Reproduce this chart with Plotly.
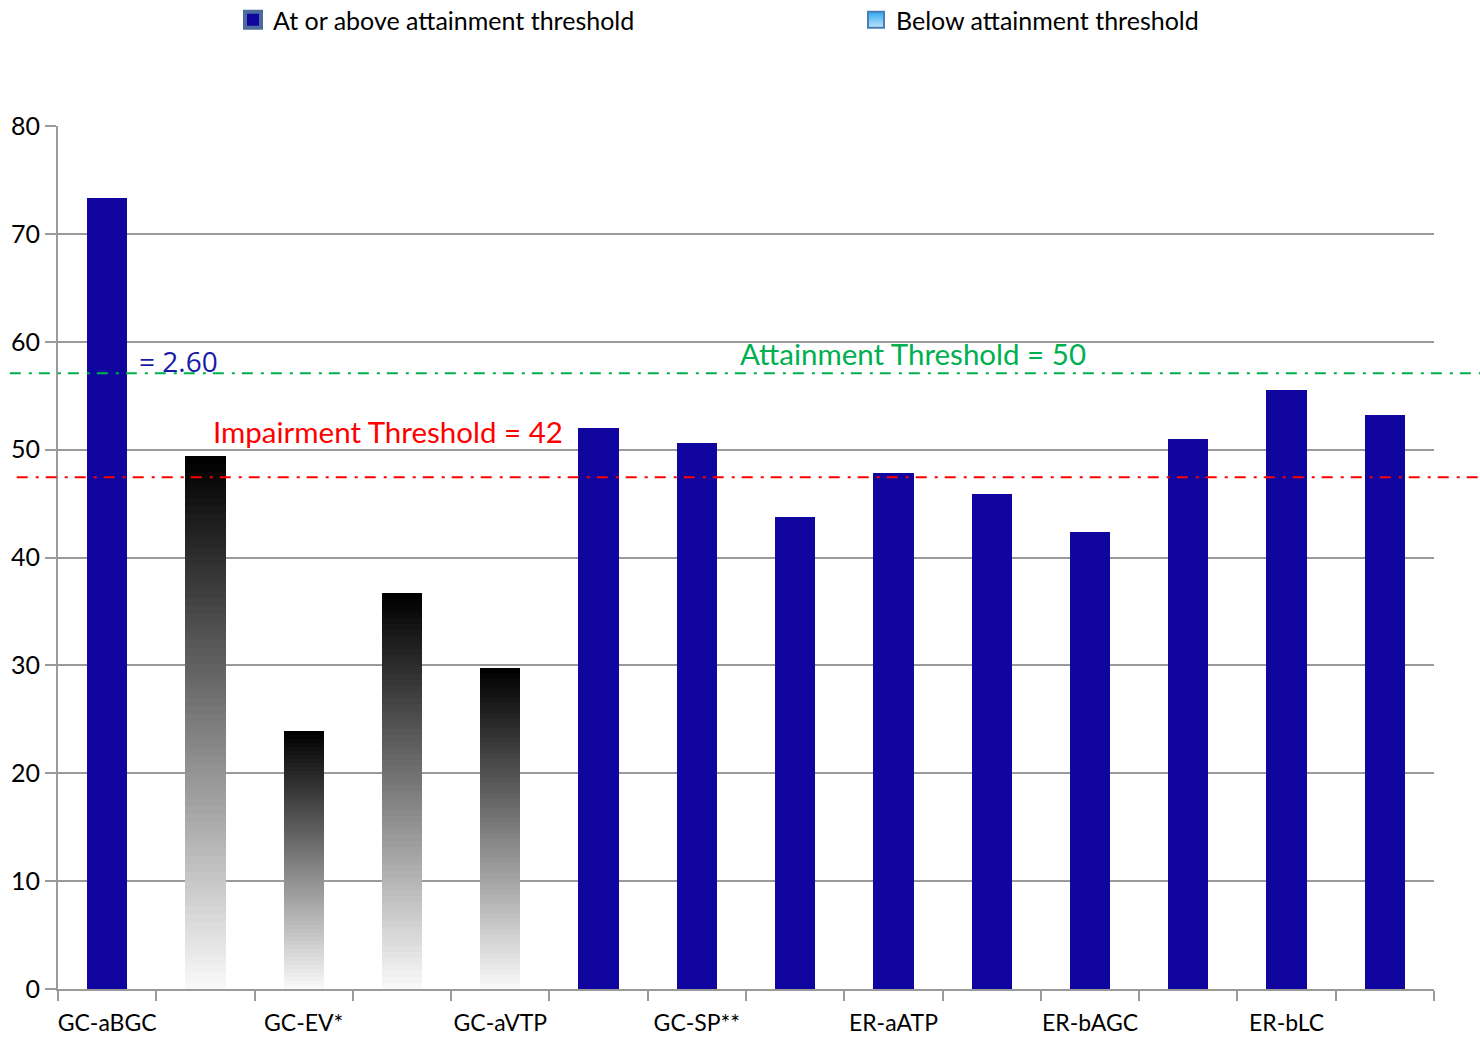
import plotly.graph_objects as go

# ---- data -------------------------------------------------------------
tick_labels = ["GC-aBGC", "", "GC-EV*", "", "GC-aVTP", "", "GC-SP**", "",
               "ER-aATP", "", "ER-bAGC", "", "ER-bLC", ""]
scores = [73.3, 49.4, 23.9, 36.7, 29.8, 52.0, 50.6, 43.8, 47.8, 45.9,
          42.4, 51.0, 55.5, 53.2]
status = ["above", "below", "below", "below", "below", "above", "above",
          "above", "above", "above", "above", "above", "above", "above"]
legend_labels = ["At or above attainment threshold", "Below attainment threshold"]

attainment_threshold = 50
impairment_threshold = 42
threshold_axis_range = [2.60, 69.04]
corner_note = "= 2.60"

# ---- styling ----------------------------------------------------------
BLUE = "#10069F"
GRID = "#9A9A9A"
GREEN = "#00B050"
RED = "#FF0000"
LABEL_FONT = "Lato"
BAR_WIDTH = 0.41
N_SHADES = 64

positions = list(range(len(scores)))

fig = go.Figure()

# solid bars
above_x = [p for p, s in zip(positions, status) if s == "above"]
above_y = [v for v, s in zip(scores, status) if s == "above"]
fig.add_trace(go.Bar(x=above_x, y=above_y, width=BAR_WIDTH,
                     marker=dict(color=BLUE, line=dict(width=0)),
                     showlegend=False, hoverinfo="x+y"))

# shaded bars: each bar split into equal stacked slices, white at the base -> black on top
below_x = [p for p, s in zip(positions, status) if s == "below"]
below_y = [v for v, s in zip(scores, status) if s == "below"]
for k in range(N_SHADES):
    g = round(248 * (1 - k / (N_SHADES - 1)))
    fig.add_trace(go.Bar(x=below_x, y=[v / N_SHADES for v in below_y], width=BAR_WIDTH,
                         marker=dict(color=f"rgb({g},{g},{g})", line=dict(width=0)),
                         showlegend=False, hoverinfo="skip"))

# legend entries
fig.add_trace(go.Scatter(x=[None], y=[None], mode="markers", name=legend_labels[0],
                         marker=dict(symbol="square", size=16, color=BLUE,
                                     line=dict(color="#4B6C9C", width=4)),
                         legend="legend"))
fig.add_trace(go.Scatter(x=[None], y=[None], mode="markers", name=legend_labels[1],
                         marker=dict(symbol="square", size=16, color="#2FA8EE",
                                     gradient=dict(type="vertical", color="#BFE6FB"),
                                     line=dict(color="#4A7DB8", width=2)),
                         legend="legend2"))

# threshold lines on the threshold scale
x_left = {attainment_threshold: -0.035, impairment_threshold: -0.030}
for thr, col in [(attainment_threshold, GREEN), (impairment_threshold, RED)]:
    fig.add_shape(type="line", xref="paper", yref="y2", x0=x_left[thr], x1=1.04,
                  y0=thr, y1=thr, line=dict(color=col, width=2, dash="11px,8px,3px,7px"),
                  layer="above")

fig.add_annotation(text=f"Attainment Threshold = {attainment_threshold}",
                   xref="paper", yref="y2", x=0.6214, y=attainment_threshold,
                   xanchor="center", yanchor="bottom", yshift=0, showarrow=False,
                   font=dict(family=LABEL_FONT, size=29.5, color=GREEN))
fig.add_annotation(text=f"Impairment Threshold = {impairment_threshold}",
                   xref="paper", yref="y2", x=0.2398, y=impairment_threshold,
                   xanchor="center", yanchor="bottom", yshift=26, showarrow=False,
                   font=dict(family=LABEL_FONT, size=29.5, color=RED))
fig.add_annotation(text=corner_note, xref="paper", yref="paper", x=0.0574, y=0.7277,
                   xanchor="left", yanchor="middle", showarrow=False,
                   font=dict(family="Open Sans", size=28, color="#1A1AA8"))

fig.update_layout(
    width=1480, height=1038,
    margin=dict(l=58, r=46, t=126, b=49, autoexpand=False),
    paper_bgcolor="white", plot_bgcolor="white",
    barmode="stack",
    font=dict(family=LABEL_FONT, size=23, color="black"),
    legend=dict(orientation="h", x=(233 - 58) / 1376, y=(989 - 20) / 863,
                xanchor="left", yanchor="middle", font=dict(family=LABEL_FONT, size=25),
                bgcolor="rgba(0,0,0,0)"),
    legend2=dict(orientation="h", x=(856 - 58) / 1376, y=(989 - 20) / 863,
                 xanchor="left", yanchor="middle", font=dict(family=LABEL_FONT, size=25),
                 bgcolor="rgba(0,0,0,0)"),
    xaxis=dict(range=[-0.5, len(scores) - 0.5], tickmode="array", tickvals=positions,
               ticktext=tick_labels, ticks="outside", ticklen=12,
               tickcolor="rgba(0,0,0,0)", showgrid=False, zeroline=False,
               showline=True, linecolor=GRID, linewidth=2,
               minor=dict(tickmode="array", tickvals=[p - 0.5 for p in positions] + [len(scores) - 0.5],
                          ticks="outside", ticklen=10, tickcolor=GRID, tickwidth=2,
                          showgrid=False),
               tickfont=dict(family=LABEL_FONT, size=23)),
    yaxis=dict(range=[0, 80], dtick=10, ticks="outside", ticklen=11, tickcolor=GRID,
               tickwidth=2, showgrid=True, gridcolor=GRID, gridwidth=2, zeroline=False,
               showline=True, linecolor=GRID, linewidth=2,
               tickfont=dict(family=LABEL_FONT, size=25)),
    yaxis2=dict(range=threshold_axis_range, overlaying="y", visible=False),
)

fig.write_html("out.html")
